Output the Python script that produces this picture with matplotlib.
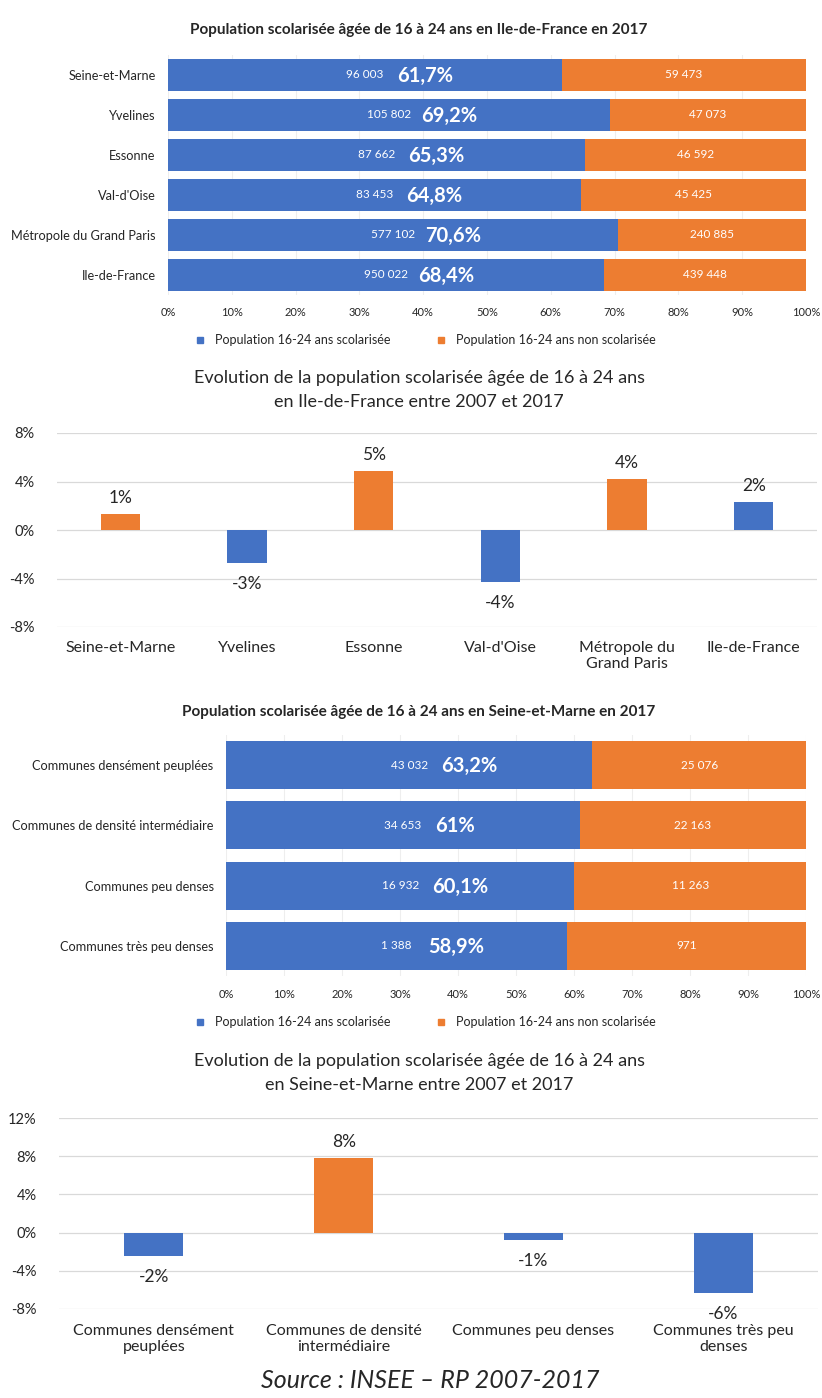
import numpy as np
import matplotlib
matplotlib.use('Agg')
import matplotlib.pyplot as plt
from matplotlib.lines import Line2D

plt.rcParams['font.family'] = ['Lato', 'DejaVu Sans']

BLUE = '#4472C4'
ORANGE = '#ED7D31'
GRID = '#D9D9D9'
TXT = '#262626'

# Chart 1 - population scolarisée 16-24 ans, Ile-de-France 2017
idf_zones = ['Seine-et-Marne', 'Yvelines', 'Essonne', "Val-d'Oise",
             'Métropole du Grand Paris', 'Ile-de-France']
idf_scol = [96003, 105802, 87662, 83453, 577102, 950022]
idf_non_scol = [59473, 47073, 46592, 45425, 240885, 439448]
idf_pct_labels = ['61,7%', '69,2%', '65,3%', '64,8%', '70,6%', '68,4%']

# Chart 2 - évolution 2007-2017, Ile-de-France (%)
evol_idf_cats = ['Seine-et-Marne', 'Yvelines', 'Essonne', "Val-d'Oise",
                 'Métropole du\nGrand Paris', 'Ile-de-France']
evol_idf = [1.3, -2.7, 4.9, -4.3, 4.2, 2.3]
evol_idf_labels = ['1%', '-3%', '5%', '-4%', '4%', '2%']
evol_idf_colors = [ORANGE, BLUE, ORANGE, BLUE, ORANGE, BLUE]

# Chart 3 - population scolarisée 16-24 ans, Seine-et-Marne 2017
sem_zones = ['Communes densément peuplées', 'Communes de densité intermédiaire',
             'Communes peu denses', 'Communes très peu denses']
sem_scol = [43032, 34653, 16932, 1388]
sem_non_scol = [25076, 22163, 11263, 971]
sem_pct_labels = ['63,2%', '61%', '60,1%', '58,9%']

# Chart 4 - évolution 2007-2017, Seine-et-Marne (%)
evol_sem_cats = ['Communes densément\npeuplées', 'Communes de densité\nintermédiaire',
                 'Communes peu denses', 'Communes très peu\ndenses']
evol_sem = [-2.5, 7.8, -0.8, -6.3]
evol_sem_labels = ['-2%', '8%', '-1%', '-6%']
evol_sem_colors = [BLUE, ORANGE, BLUE, BLUE]

LEGEND_LABELS = ['Population 16-24 ans scolarisée', 'Population 16-24 ans non scolarisée']


def fmt(v):
    return '{:,}'.format(v).replace(',', ' ')


def clean(ax):
    for s in ax.spines.values():
        s.set_visible(False)
    ax.tick_params(length=0, colors=TXT)
    ax.set_axisbelow(True)


def stacked(fig, rect, cats, scol, non_scol, pct_labels, legend_y):
    ax = fig.add_axes(rect)
    scol = np.array(scol, float)
    non = np.array(non_scol, float)
    tot = scol + non
    s = scol / tot * 100
    n = non / tot * 100
    y = np.arange(len(cats))
    ax.barh(y, s, height=0.8, color=BLUE)
    ax.barh(y, n, left=s, height=0.8, color=ORANGE)
    ax.set_xlim(0, 100)
    ax.set_ylim(len(cats) - 0.5, -0.5)
    ticks = np.arange(0, 101, 10)
    ax.set_xticks(ticks, ['{}%'.format(t) for t in ticks], fontsize=8)
    ax.set_yticks(y, cats, fontsize=9.2)
    ax.tick_params(axis='x', pad=9)
    ax.tick_params(axis='y', pad=9)
    ax.grid(axis='x', color='#EEEEEE', lw=0.8)
    clean(ax)
    for i in range(len(cats)):
        ax.text(s[i] / 2, y[i], fmt(int(scol[i])), ha='center', va='center',
                color='white', fontsize=8.5)
        ax.annotate(pct_labels[i], xy=(s[i] / 2, y[i]), xytext=(32, -1),
                    textcoords='offset pixels', ha='left', va='center',
                    color='white', fontsize=14.5, fontweight='bold')
        ax.text(s[i] + n[i] / 2, y[i], fmt(int(non[i])), ha='center',
                va='center', color='white', fontsize=8.5)
    handles = [Line2D([], [], marker='s', ls='', color=c, markersize=4.5)
               for c in (BLUE, ORANGE)]
    fig.legend(handles, LEGEND_LABELS, loc='center', bbox_to_anchor=(0.513, legend_y),
               ncol=2, frameon=False, fontsize=9, handletextpad=0.2,
               columnspacing=3, labelcolor=TXT)
    return ax


def columns(fig, rect, cats, vals, labels, colors, ylim, yticks, width, xpad):
    ax = fig.add_axes(rect)
    x = np.arange(len(cats))
    ax.bar(x, vals, width=width, color=colors)
    ax.set_xlim(-0.5, len(cats) - 0.5)
    ax.set_ylim(*ylim)
    ax.set_yticks(yticks, ['{}%'.format(t) for t in yticks], fontsize=10.5)
    ax.set_xticks(x, cats, fontsize=11.5)
    ax.tick_params(axis='y', pad=16)
    ax.tick_params(axis='x', pad=xpad)
    ax.grid(axis='y', color=GRID, lw=0.9)
    clean(ax)
    for xi, v, lab in zip(x, vals, labels):
        if v >= 0:
            ax.annotate(lab, (xi, v), xytext=(0, 8), textcoords='offset pixels',
                        ha='center', va='bottom', fontsize=12.5, color=TXT)
        else:
            ax.annotate(lab, (xi, v), xytext=(0, -13), textcoords='offset pixels',
                        ha='center', va='top', fontsize=12.5, color=TXT)
    return ax


fig = plt.figure(figsize=(8.22, 13.98), dpi=100)
W, H = 822.0, 1398.0


def rect(left, top, right, bottom):
    return [left / W, 1 - bottom / H, (right - left) / W, (bottom - top) / H]


# chart 1
fig.text(419 / W, 1 - 30 / H, 'Population scolarisée âgée de 16 à 24 ans en Ile-de-France en 2017',
         ha='center', va='center', fontsize=11, fontweight='bold', color=TXT)
stacked(fig, rect(168, 55, 806, 295), idf_zones, idf_scol, idf_non_scol,
        idf_pct_labels, 1 - 340 / H)

# chart 2
fig.text(419 / W, 1 - 390 / H,
         'Evolution de la population scolarisée âgée de 16 à 24 ans\nen Ile-de-France entre 2007 et 2017',
         ha='center', va='center', fontsize=13, color=TXT, linespacing=1.6)
columns(fig, rect(57, 433, 817, 627), evol_idf_cats, evol_idf, evol_idf_labels,
        evol_idf_colors, (-8, 8), [-8, -4, 0, 4, 8], 0.31, 10)

# chart 3
fig.text(419 / W, 1 - 712 / H, 'Population scolarisée âgée de 16 à 24 ans en Seine-et-Marne en 2017',
         ha='center', va='center', fontsize=11, fontweight='bold', color=TXT)
stacked(fig, rect(226, 735, 806, 976), sem_zones, sem_scol, sem_non_scol,
        sem_pct_labels, 1 - 1022 / H)

# chart 4
fig.text(419 / W, 1 - 1073 / H,
         'Evolution de la population scolarisée âgée de 16 à 24 ans\nen Seine-et-Marne entre 2007 et 2017',
         ha='center', va='center', fontsize=13, color=TXT, linespacing=1.6)
columns(fig, rect(59, 1118, 818, 1309), evol_sem_cats, evol_sem, evol_sem_labels,
        evol_sem_colors, (-8, 12), [-8, -4, 0, 4, 8, 12], 0.31, 11)

fig.text(430 / W, 1 - 1381 / H, 'Source : INSEE – RP 2007-2017', ha='center',
         va='center', fontsize=18, style='italic', color=TXT)

fig.savefig('out.png', dpi=100)
